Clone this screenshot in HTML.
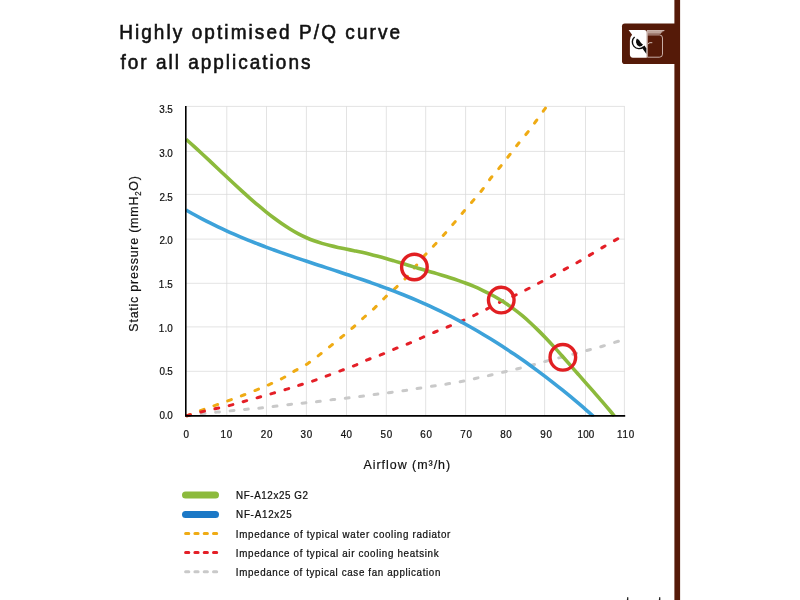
<!DOCTYPE html>
<html lang="en"><head><meta charset="utf-8"><title>Highly optimised P/Q curve</title>
<style>html,body{margin:0;padding:0;background:#fff;overflow:hidden}svg{display:block}text{font-family:"Liberation Sans",sans-serif;white-space:pre}</style></head>
<body>
<svg width="800" height="600" viewBox="0 0 800 600">
<path d="M226.80,106.40 V415.40 M266.50,106.40 V415.40 M306.40,106.40 V415.40 M346.50,106.40 V415.40 M386.30,106.40 V415.40 M425.70,106.40 V415.40 M465.60,106.40 V415.40 M505.50,106.40 V415.40 M544.60,106.40 V415.40 M585.50,106.40 V415.40 M624.40,106.40 V415.40 M186.10,371.30 H624.80 M186.10,326.90 H624.80 M186.10,283.30 H624.80 M186.10,239.10 H624.80 M186.10,194.40 H624.80 M186.10,151.40 H624.80 M186.10,106.40 H624.80" stroke="#d9d9d9" stroke-width="0.75" fill="none"/>
<g fill="none" stroke-linecap="round">
<path d="M186.80,415.80 C189.83,415.38 198.33,414.07 205.00,413.30 C211.67,412.53 219.80,411.88 226.80,411.20 C233.80,410.52 240.40,409.83 247.00,409.20 C253.60,408.57 259.23,408.20 266.40,407.40 C273.57,406.60 283.67,405.13 290.00,404.40 C296.33,403.67 299.73,403.47 304.40,403.00 C309.07,402.53 313.23,402.17 318.00,401.60 C322.77,401.03 328.10,400.20 333.00,399.60 C337.90,399.00 342.57,398.57 347.40,398.00 C352.23,397.43 357.13,396.83 362.00,396.20 C366.87,395.57 371.77,394.83 376.60,394.20 C381.43,393.57 386.17,393.03 391.00,392.40 C395.83,391.77 400.93,391.10 405.60,390.40 C410.27,389.70 414.35,388.93 419.00,388.20 C423.65,387.47 428.67,386.73 433.50,386.00 C438.33,385.27 443.17,384.59 448.00,383.80 C452.83,383.01 457.79,382.18 462.50,381.25 C467.21,380.32 471.67,379.25 476.25,378.25 C480.83,377.25 485.21,376.33 490.00,375.25 C494.79,374.17 500.21,372.88 505.00,371.75 C509.79,370.62 514.17,369.62 518.75,368.50 C523.33,367.38 528.12,366.17 532.50,365.00 C536.88,363.83 540.42,362.73 545.00,361.50 C549.58,360.27 555.00,358.89 560.00,357.60 C565.00,356.31 570.21,355.02 575.00,353.75 C579.79,352.48 584.04,351.29 588.75,350.00 C593.46,348.71 598.46,347.42 603.25,346.00 C608.04,344.58 614.54,342.45 617.50,341.50 C620.46,340.55 620.42,340.50 621.00,340.30" stroke="#c9c9c9" stroke-width="3" stroke-dasharray="3.8 10.7"/>
<path d="M186.80,415.80 C189.83,414.67 198.33,411.43 205.00,409.00 C211.67,406.57 219.80,403.75 226.80,401.20 C233.80,398.65 240.40,396.27 247.00,393.70 C253.60,391.13 260.40,388.42 266.40,385.80 C272.40,383.18 278.13,380.57 283.00,378.00 C287.87,375.43 291.43,372.83 295.60,370.40 C299.77,367.97 303.93,366.07 308.00,363.40 C312.07,360.73 316.17,357.37 320.00,354.40 C323.83,351.43 327.27,348.60 331.00,345.60 C334.73,342.60 338.63,339.50 342.40,336.40 C346.17,333.30 349.93,330.23 353.60,327.00 C357.27,323.77 360.83,320.23 364.40,317.00 C367.97,313.77 371.57,310.85 375.00,307.60 C378.43,304.35 381.46,300.88 385.00,297.50 C388.54,294.12 392.50,290.84 396.25,287.30 C400.00,283.76 404.17,279.88 407.50,276.25 C410.83,272.62 413.25,269.12 416.25,265.50 C419.25,261.88 422.38,258.00 425.50,254.50 C428.62,251.00 431.75,248.00 435.00,244.50 C438.25,241.00 441.75,237.17 445.00,233.50 C448.25,229.83 451.38,226.17 454.50,222.50 C457.62,218.83 460.67,215.12 463.75,211.50 C466.83,207.88 469.88,204.42 473.00,200.75 C476.12,197.08 479.46,193.38 482.50,189.50 C485.54,185.62 488.25,181.33 491.25,177.50 C494.25,173.67 497.46,170.25 500.50,166.50 C503.54,162.75 506.54,158.79 509.50,155.00 C512.46,151.21 515.25,147.50 518.25,143.75 C521.25,140.00 524.50,136.33 527.50,132.50 C530.50,128.67 533.23,124.83 536.25,120.75 C539.27,116.67 544.04,110.12 545.60,108.00" stroke="#efab14" stroke-width="3" stroke-dasharray="3.8 10.7"/>
<path d="M186.80,415.80 C189.83,415.00 198.33,412.60 205.00,411.00 C211.67,409.40 219.80,407.93 226.80,406.20 C233.80,404.47 240.40,402.43 247.00,400.60 C253.60,398.77 259.90,397.07 266.40,395.20 C272.90,393.33 280.40,391.10 286.00,389.40 C291.60,387.70 295.33,386.47 300.00,385.00 C304.67,383.53 309.40,382.17 314.00,380.60 C318.60,379.03 323.00,377.30 327.60,375.60 C332.20,373.90 337.03,372.10 341.60,370.40 C346.17,368.70 350.60,367.20 355.00,365.40 C359.40,363.60 363.50,361.43 368.00,359.60 C372.50,357.77 377.33,356.27 382.00,354.40 C386.67,352.53 391.50,350.23 396.00,348.40 C400.50,346.57 404.79,345.13 409.00,343.40 C413.21,341.67 416.92,339.90 421.25,338.00 C425.58,336.10 430.54,333.88 435.00,332.00 C439.46,330.12 443.62,328.54 448.00,326.75 C452.38,324.96 456.75,323.21 461.25,321.25 C465.75,319.29 470.42,317.21 475.00,315.00 C479.58,312.79 484.38,310.25 488.75,308.00 C493.12,305.75 496.88,303.62 501.25,301.50 C505.62,299.38 510.61,297.38 515.00,295.30 C519.39,293.22 523.43,291.13 527.60,289.00 C531.77,286.87 535.77,284.73 540.00,282.50 C544.23,280.27 548.67,277.92 553.00,275.60 C557.33,273.28 561.73,270.90 566.00,268.60 C570.27,266.30 574.43,264.17 578.60,261.80 C582.77,259.43 586.77,256.93 591.00,254.40 C595.23,251.87 599.73,249.10 604.00,246.60 C608.27,244.10 614.02,240.90 616.60,239.40 C619.18,237.90 619.02,237.90 619.50,237.60" stroke="#e41f27" stroke-width="3" stroke-dasharray="3.8 10.7"/>
</g>
<clipPath id="cp"><rect x="185" y="100" width="445" height="316.7"/></clipPath>
<g fill="none" stroke-linecap="butt" clip-path="url(#cp)">
<path d="M186.00,210.02 C187.33,210.77 191.33,213.07 194.00,214.54 C196.67,216.01 199.33,217.45 202.00,218.85 C204.67,220.25 207.33,221.62 210.00,222.95 C212.67,224.29 215.33,225.59 218.00,226.86 C220.67,228.14 223.33,229.38 226.00,230.60 C228.67,231.82 231.33,233.00 234.00,234.17 C236.67,235.33 239.33,236.47 242.00,237.59 C244.67,238.70 247.33,239.79 250.00,240.87 C252.67,241.94 255.33,242.99 258.00,244.02 C260.67,245.05 263.33,246.06 266.00,247.06 C268.67,248.06 271.33,249.04 274.00,250.00 C276.67,250.97 279.33,251.92 282.00,252.86 C284.67,253.80 287.33,254.72 290.00,255.64 C292.67,256.56 295.33,257.47 298.00,258.36 C300.67,259.26 303.33,260.15 306.00,261.04 C308.67,261.93 311.33,262.80 314.00,263.68 C316.67,264.56 319.33,265.43 322.00,266.30 C324.67,267.17 327.33,268.04 330.00,268.91 C332.67,269.79 335.33,270.66 338.00,271.53 C340.67,272.41 343.33,273.28 346.00,274.17 C348.67,275.05 351.33,275.94 354.00,276.84 C356.67,277.73 359.33,278.63 362.00,279.55 C364.67,280.46 367.33,281.38 370.00,282.32 C372.67,283.25 375.33,284.20 378.00,285.16 C380.67,286.12 383.33,287.09 386.00,288.08 C388.67,289.07 391.33,290.07 394.00,291.10 C396.67,292.12 399.33,293.17 402.00,294.23 C404.67,295.29 407.33,296.37 410.00,297.48 C412.67,298.59 415.33,299.72 418.00,300.87 C420.67,302.02 423.33,303.20 426.00,304.41 C428.67,305.61 431.33,306.84 434.00,308.10 C436.67,309.36 439.33,310.65 442.00,311.96 C444.67,313.28 447.33,314.62 450.00,315.98 C452.67,317.35 455.33,318.75 458.00,320.17 C460.67,321.59 463.33,323.04 466.00,324.52 C468.67,325.99 471.33,327.50 474.00,329.03 C476.67,330.56 479.33,332.12 482.00,333.71 C484.67,335.29 487.33,336.91 490.00,338.55 C492.67,340.19 495.33,341.86 498.00,343.56 C500.67,345.26 503.33,346.98 506.00,348.74 C508.67,350.49 511.33,352.27 514.00,354.08 C516.67,355.89 519.33,357.72 522.00,359.59 C524.67,361.45 527.33,363.35 530.00,365.27 C532.67,367.19 535.33,369.14 538.00,371.11 C540.67,373.09 543.33,375.10 546.00,377.13 C548.67,379.17 551.33,381.23 554.00,383.32 C556.67,385.41 559.33,387.53 562.00,389.68 C564.67,391.82 567.33,394.00 570.00,396.20 C572.67,398.41 575.33,400.64 578.00,402.90 C580.67,405.17 583.35,407.47 586.00,409.78 C588.65,412.08 592.58,415.57 593.90,416.73" stroke="#3da2da" stroke-width="3.6"/>
<path d="M186.00,139.27 C187.33,140.45 191.33,143.98 194.00,146.39 C196.67,148.80 199.33,151.25 202.00,153.72 C204.67,156.18 207.33,158.68 210.00,161.18 C212.67,163.69 215.33,166.21 218.00,168.73 C220.67,171.24 223.33,173.77 226.00,176.27 C228.67,178.78 231.33,181.29 234.00,183.76 C236.67,186.24 239.33,188.70 242.00,191.13 C244.67,193.55 247.33,195.95 250.00,198.30 C252.67,200.64 255.33,202.96 258.00,205.21 C260.67,207.46 263.33,209.66 266.00,211.79 C268.67,213.92 271.33,216.00 274.00,217.98 C276.67,219.97 279.33,221.89 282.00,223.72 C284.67,225.54 287.33,227.29 290.00,228.92 C292.67,230.56 295.33,232.11 298.00,233.54 C300.67,234.96 303.33,236.29 306.00,237.49 C308.67,238.69 311.33,239.76 314.00,240.75 C316.67,241.73 319.33,242.60 322.00,243.40 C324.67,244.21 327.33,244.92 330.00,245.59 C332.67,246.26 335.33,246.86 338.00,247.44 C340.67,248.02 343.33,248.55 346.00,249.09 C348.67,249.63 351.33,250.13 354.00,250.67 C356.67,251.21 359.33,251.73 362.00,252.32 C364.67,252.90 367.33,253.50 370.00,254.16 C372.67,254.81 375.33,255.52 378.00,256.24 C380.67,256.97 383.33,257.73 386.00,258.51 C388.67,259.28 391.33,260.09 394.00,260.90 C396.67,261.70 399.33,262.53 402.00,263.34 C404.67,264.16 407.33,264.99 410.00,265.79 C412.67,266.60 415.33,267.40 418.00,268.18 C420.67,268.97 423.33,269.73 426.00,270.50 C428.67,271.28 431.33,272.04 434.00,272.82 C436.67,273.60 439.33,274.38 442.00,275.19 C444.67,276.00 447.33,276.82 450.00,277.68 C452.67,278.53 455.33,279.41 458.00,280.34 C460.67,281.27 463.33,282.23 466.00,283.25 C468.67,284.26 471.33,285.32 474.00,286.45 C476.67,287.58 479.33,288.76 482.00,290.02 C484.67,291.28 487.33,292.60 490.00,294.01 C492.67,295.42 495.33,296.91 498.00,298.49 C500.67,300.08 503.33,301.74 506.00,303.52 C508.67,305.30 511.33,307.16 514.00,309.15 C516.67,311.15 519.33,313.24 522.00,315.46 C524.67,317.68 527.33,320.03 530.00,322.48 C532.67,324.92 535.33,327.49 538.00,330.13 C540.67,332.76 543.33,335.50 546.00,338.30 C548.67,341.09 551.33,343.97 554.00,346.88 C556.67,349.79 559.33,352.77 562.00,355.76 C564.67,358.76 567.33,361.80 570.00,364.84 C572.67,367.88 575.33,370.95 578.00,374.00 C580.67,377.04 583.33,380.09 586.00,383.12 C588.67,386.15 591.33,389.14 594.00,392.17 C596.67,395.20 599.33,398.21 602.00,401.31 C604.67,404.40 607.93,408.26 610.00,410.73 C612.07,413.20 613.67,415.22 614.40,416.11" stroke="#8cba3c" stroke-width="3.6"/>
</g>
<path d="M185.8,106 V416.7 M185,415.9 H625.2" stroke="#000" stroke-width="1.6" fill="none"/>
<circle cx="414.40" cy="267.00" r="12.8" fill="none" stroke="#e11f22" stroke-width="3.4"/>
<circle cx="501.25" cy="300.10" r="12.8" fill="none" stroke="#e11f22" stroke-width="3.4"/>
<circle cx="562.85" cy="357.30" r="12.8" fill="none" stroke="#e11f22" stroke-width="3.4"/>
<g fill="#111" stroke="#111">
<text transform="translate(119.15,39.40) scale(0.940,1)" font-size="20.20" textLength="298.90" lengthAdjust="spacing" stroke-width="0.60">Highly optimised P/Q curve</text>
<text transform="translate(120.50,68.60) scale(0.940,1)" font-size="20.20" textLength="202.06" lengthAdjust="spacing" stroke-width="0.60">for all applications</text>
<text transform="translate(159.31,113.10) scale(0.880,1)" font-size="11.20" textLength="15.37" lengthAdjust="spacing" stroke-width="0.25">3.5</text>
<text transform="translate(159.31,156.82) scale(0.880,1)" font-size="11.20" textLength="15.33" lengthAdjust="spacing" stroke-width="0.25">3.0</text>
<text transform="translate(159.42,200.54) scale(0.880,1)" font-size="11.20" textLength="15.24" lengthAdjust="spacing" stroke-width="0.25">2.5</text>
<text transform="translate(159.42,244.26) scale(0.880,1)" font-size="11.20" textLength="15.20" lengthAdjust="spacing" stroke-width="0.25">2.0</text>
<text transform="translate(158.80,287.98) scale(0.880,1)" font-size="11.20" textLength="15.95" lengthAdjust="spacing" stroke-width="0.25">1.5</text>
<text transform="translate(158.80,331.70) scale(0.880,1)" font-size="11.20" textLength="15.91" lengthAdjust="spacing" stroke-width="0.25">1.0</text>
<text transform="translate(159.53,375.42) scale(0.880,1)" font-size="11.20" textLength="15.12" lengthAdjust="spacing" stroke-width="0.25">0.5</text>
<text transform="translate(159.53,419.14) scale(0.880,1)" font-size="11.20" textLength="15.08" lengthAdjust="spacing" stroke-width="0.25">0.0</text>
<text transform="translate(183.48,437.90) scale(0.880,1)" font-size="11.20" textLength="7.99" lengthAdjust="spacing" stroke-width="0.25">0</text>
<text transform="translate(220.52,437.90) scale(0.880,1)" font-size="11.20" textLength="13.33" lengthAdjust="spacing" stroke-width="0.25">10</text>
<text transform="translate(260.80,437.90) scale(0.880,1)" font-size="11.20" textLength="13.15" lengthAdjust="spacing" stroke-width="0.25">20</text>
<text transform="translate(300.55,437.90) scale(0.880,1)" font-size="11.20" textLength="13.18" lengthAdjust="spacing" stroke-width="0.25">30</text>
<text transform="translate(340.66,437.90) scale(0.880,1)" font-size="11.20" textLength="12.98" lengthAdjust="spacing" stroke-width="0.25">40</text>
<text transform="translate(380.50,437.90) scale(0.880,1)" font-size="11.20" textLength="13.21" lengthAdjust="spacing" stroke-width="0.25">50</text>
<text transform="translate(420.18,437.90) scale(0.880,1)" font-size="11.20" textLength="13.39" lengthAdjust="spacing" stroke-width="0.25">60</text>
<text transform="translate(460.18,437.90) scale(0.880,1)" font-size="11.20" textLength="13.41" lengthAdjust="spacing" stroke-width="0.25">70</text>
<text transform="translate(500.20,437.90) scale(0.880,1)" font-size="11.20" textLength="13.18" lengthAdjust="spacing" stroke-width="0.25">80</text>
<text transform="translate(540.35,437.90) scale(0.880,1)" font-size="11.20" textLength="13.09" lengthAdjust="spacing" stroke-width="0.25">90</text>
<text transform="translate(577.44,437.90) scale(0.880,1)" font-size="11.20" textLength="19.20" lengthAdjust="spacing" stroke-width="0.25">100</text>
<text transform="translate(617.04,437.90) scale(0.880,1)" font-size="11.20" textLength="19.47" lengthAdjust="spacing" stroke-width="0.25">110</text>
<text transform="translate(363.48,468.80) scale(0.930,1)" font-size="13.40" textLength="93.20" lengthAdjust="spacing" stroke-width="0.20">Airflow (m³/h)</text>
<text transform="translate(137.70,331.67) rotate(-90) scale(0.930,1)" font-size="13.40" textLength="167.34" lengthAdjust="spacing" stroke-width="0.20">Static pressure (mmH<tspan font-size="8.5" dy="3.6">2</tspan><tspan dy="-3.6">O)</tspan></text>
<text transform="translate(236.06,498.60) scale(0.900,1)" font-size="10.90" textLength="79.90" lengthAdjust="spacing" stroke-width="0.25">NF-A12x25 G2</text>
<text transform="translate(236.06,518.40) scale(0.900,1)" font-size="10.90" textLength="61.79" lengthAdjust="spacing" stroke-width="0.25">NF-A12x25</text>
<text transform="translate(235.86,537.60) scale(0.900,1)" font-size="10.90" textLength="238.37" lengthAdjust="spacing" stroke-width="0.25">Impedance of typical water cooling radiator</text>
<text transform="translate(235.86,556.70) scale(0.900,1)" font-size="10.90" textLength="225.20" lengthAdjust="spacing" stroke-width="0.25">Impedance of typical air cooling heatsink</text>
<text transform="translate(235.86,575.70) scale(0.900,1)" font-size="10.90" textLength="227.28" lengthAdjust="spacing" stroke-width="0.25">Impedance of typical case fan application</text>
<text transform="translate(602.5,616.1) scale(0.96,1.8)" font-size="15" stroke-width="0.3">noctua.at</text>
</g>
<path d="M185.5,495 H215.5" stroke="#8cba3c" stroke-width="7" stroke-linecap="round"/>
<path d="M185.5,514.4 H215.5" stroke="#1b78c6" stroke-width="7" stroke-linecap="round"/>
<path d="M185.6,533.5 H217" stroke="#efab14" stroke-width="3" stroke-linecap="round" stroke-dasharray="3.2 6.1"/>
<path d="M185.6,552.6 H217" stroke="#e41f27" stroke-width="3" stroke-linecap="round" stroke-dasharray="3.2 6.1"/>
<path d="M185.6,571.7 H217" stroke="#c9c9c9" stroke-width="3" stroke-linecap="round" stroke-dasharray="3.2 6.1"/>
<rect x="674.4" y="0" width="5.7" height="600" fill="#551a08"/>
<path d="M675,23.5 H624.8 Q622,23.5 622,26.3 V61.2 Q622,64 624.8,64 H675 Z" fill="#551a08"/>
<path d="M628.6,30.1 H644.2 Q646.8,30.1 646.8,32.6 V57.7 H633 Q629.9,57.7 629.9,54.6 V40.5 Q629.9,36.6 632.1,34.7 Z" fill="#fff"/>
<path d="M634.6,37 A6.5,6.5 0 1 0 643.4,47" fill="none" stroke="#0a0a0a" stroke-width="1.4"/>
<path d="M636.9,38.6 Q639.4,39.6 640.5,42.2 Q641.4,43.6 643,44.4 Q641.8,46.8 639.2,46.4 Q636.4,45.2 636,42.2 Q635.9,40.2 636.9,38.6 Z" fill="#0a0a0a"/>
<path d="M641.8,47.6 L644.5,45.4 L646.4,48.4 L646.4,54 Z" fill="#0a0a0a"/>
<path d="M647.4,30.2 H664.4 L664.1,31.2 H662.6 L662.2,32.4 H661.4 L660.8,33.8 H647.4 Z" fill="#bfa49b"/>
<path d="M647.4,30.5 H664.3" stroke="#e2d3ce" stroke-width="0.6" fill="none"/>
<path d="M647.3,30.1 V57.2 H659.4 Q662.5,57.2 662.5,54.2 V38 Q662.5,34.9 659.4,34.9 H647.4" fill="none" stroke="#e4d4cf" stroke-width="0.8"/>
<path d="M648.1,44.2 Q648.2,42.8 650,42.7 H652.3" fill="none" stroke="#f0e6e3" stroke-width="0.8"/>

</svg>
</body></html>
